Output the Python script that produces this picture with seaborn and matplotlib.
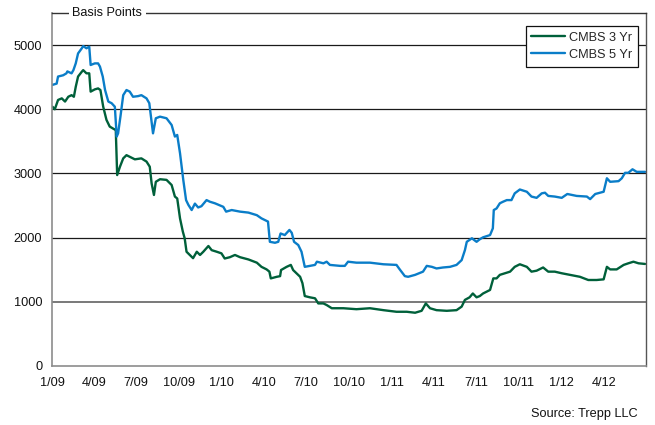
import numpy as np
import pandas as pd
import matplotlib
matplotlib.use('Agg')
import matplotlib.pyplot as plt
import seaborn as sns

# CMBS 3 Yr spread (basis points)
dates_3yr = ['2009-01-02', '2009-01-07', '2009-01-14', '2009-01-22', '2009-01-29', '2009-02-05',
             '2009-02-12', '2009-02-17', '2009-02-21', '2009-02-26', '2009-03-06', '2009-03-09',
             '2009-03-16', '2009-03-22', '2009-03-25', '2009-04-03', '2009-04-10', '2009-04-15',
             '2009-04-21', '2009-04-28', '2009-05-05', '2009-05-12', '2009-05-18', '2009-05-21',
             '2009-05-27', '2009-06-03', '2009-06-10', '2009-06-17', '2009-06-28', '2009-07-12',
             '2009-07-23', '2009-07-30', '2009-08-03', '2009-08-08', '2009-08-12', '2009-08-21',
             '2009-09-04', '2009-09-15', '2009-09-22', '2009-09-27', '2009-10-03', '2009-10-09',
             '2009-10-13', '2009-10-17', '2009-10-24', '2009-10-31', '2009-11-08', '2009-11-15',
             '2009-11-22', '2009-12-03', '2009-12-10', '2009-12-21', '2009-12-31', '2010-01-07',
             '2010-01-18', '2010-01-29', '2010-02-09', '2010-02-27', '2010-03-17', '2010-03-27',
             '2010-04-07', '2010-04-13', '2010-04-16', '2010-04-29', '2010-05-06', '2010-05-08',
             '2010-05-20', '2010-05-29', '2010-06-03', '2010-06-10', '2010-06-18', '2010-06-23',
             '2010-06-28', '2010-07-09', '2010-07-20', '2010-07-27', '2010-08-07', '2010-08-14',
             '2010-08-25', '2010-09-12', '2010-09-19', '2010-10-17', '2010-11-15', '2010-12-14',
             '2011-01-11', '2011-02-02', '2011-02-20', '2011-03-06', '2011-03-15', '2011-03-24',
             '2011-04-07', '2011-04-29', '2011-05-20', '2011-05-31', '2011-06-07', '2011-06-17',
             '2011-06-24', '2011-07-02', '2011-07-09', '2011-07-16', '2011-07-31', '2011-08-07',
             '2011-08-14', '2011-08-21', '2011-09-01', '2011-09-12', '2011-09-22', '2011-10-03',
             '2011-10-18', '2011-10-28', '2011-11-08', '2011-11-22', '2011-12-03', '2011-12-17',
             '2012-01-01', '2012-01-19', '2012-02-09', '2012-02-27', '2012-03-16', '2012-03-31',
             '2012-04-07', '2012-04-14', '2012-04-28', '2012-05-13', '2012-05-23', '2012-06-03',
             '2012-06-14', '2012-06-28']
cmbs_3yr = [4040, 4000, 4145, 4170, 4120, 4195,
            4220, 4195, 4350, 4510, 4585, 4610,
            4560, 4560, 4275, 4310, 4325, 4300,
            4040, 3835, 3730, 3700, 3675, 2975,
            3105, 3235, 3285, 3260, 3220, 3235,
            3185, 3105, 2845, 2665, 2870, 2910,
            2900, 2820, 2640, 2610, 2300, 2095,
            1990, 1780, 1730, 1680, 1780, 1730,
            1780, 1870, 1805, 1780, 1755, 1675,
            1695, 1730, 1695, 1660, 1610, 1545,
            1505, 1470, 1365, 1390, 1400, 1495,
            1545, 1575, 1495, 1445, 1390, 1290,
            1090, 1070, 1055, 975, 975, 950,
            900, 900, 900, 885, 900, 870,
            845, 845, 830, 860, 975, 900,
            870, 860, 870, 925, 1030, 1070,
            1130, 1070, 1090, 1130, 1185, 1365,
            1365, 1420, 1445, 1470, 1545, 1585,
            1545, 1470, 1485, 1535, 1470, 1470,
            1445, 1420, 1390, 1340, 1340, 1350,
            1545, 1505, 1505, 1575, 1600, 1625,
            1600, 1590]

# CMBS 5 Yr spread (basis points)
dates_5yr = ['2009-01-02', '2009-01-11', '2009-01-14', '2009-01-25', '2009-02-01', '2009-02-03',
             '2009-02-12', '2009-02-16', '2009-02-21', '2009-02-26', '2009-03-06', '2009-03-09',
             '2009-03-16', '2009-03-22', '2009-03-25', '2009-04-03', '2009-04-10', '2009-04-14',
             '2009-04-20', '2009-04-25', '2009-05-02', '2009-05-09', '2009-05-16', '2009-05-20',
             '2009-05-23', '2009-05-28', '2009-06-03', '2009-06-10', '2009-06-17', '2009-06-24',
             '2009-07-05', '2009-07-12', '2009-07-23', '2009-07-29', '2009-08-03', '2009-08-06',
             '2009-08-12', '2009-08-21', '2009-09-04', '2009-09-15', '2009-09-22', '2009-09-27',
             '2009-10-03', '2009-10-10', '2009-10-16', '2009-10-21', '2009-10-28', '2009-11-04',
             '2009-11-11', '2009-11-18', '2009-11-29', '2009-12-06', '2009-12-17', '2010-01-04',
             '2010-01-10', '2010-01-22', '2010-02-09', '2010-02-27', '2010-03-17', '2010-03-27',
             '2010-04-10', '2010-04-14', '2010-04-25', '2010-05-02', '2010-05-07', '2010-05-16',
             '2010-05-26', '2010-05-31', '2010-06-05', '2010-06-14', '2010-06-21', '2010-06-28',
             '2010-07-09', '2010-07-20', '2010-07-24', '2010-08-07', '2010-08-14', '2010-08-21',
             '2010-09-12', '2010-09-22', '2010-09-29', '2010-10-17', '2010-11-15', '2010-12-14',
             '2011-01-11', '2011-01-18', '2011-01-29', '2011-02-05', '2011-02-20', '2011-03-09',
             '2011-03-17', '2011-03-28', '2011-04-07', '2011-04-21', '2011-05-06', '2011-05-20',
             '2011-05-31', '2011-06-07', '2011-06-11', '2011-06-22', '2011-07-02', '2011-07-09',
             '2011-07-16', '2011-07-31', '2011-08-06', '2011-08-08', '2011-08-14', '2011-08-21',
             '2011-08-28', '2011-09-05', '2011-09-15', '2011-09-22', '2011-10-03', '2011-10-18',
             '2011-10-28', '2011-11-08', '2011-11-19', '2011-11-26', '2011-12-03', '2011-12-17',
             '2012-01-01', '2012-01-13', '2012-02-02', '2012-02-24', '2012-03-02', '2012-03-13',
             '2012-03-31', '2012-04-03', '2012-04-07', '2012-04-14', '2012-05-02', '2012-05-09',
             '2012-05-16', '2012-05-23', '2012-06-01', '2012-06-10', '2012-06-17', '2012-06-28']
cmbs_5yr = [4380, 4400, 4510, 4530, 4560, 4590,
            4560, 4610, 4715, 4870, 4950, 4985,
            4950, 4975, 4690, 4715, 4715, 4665,
            4510, 4300, 4120, 4095, 4040, 3575,
            3625, 3885, 4220, 4300, 4275, 4195,
            4205, 4220, 4170, 4095, 3805, 3625,
            3860, 3885, 3860, 3755, 3575, 3600,
            3315, 2900, 2585, 2510, 2430, 2530,
            2470, 2490, 2585, 2560, 2535, 2480,
            2405, 2430, 2405, 2390, 2350, 2300,
            2250, 1935, 1920, 1935, 2065, 2040,
            2120, 2075, 1935, 1885, 1780, 1545,
            1560, 1575, 1625, 1600, 1625, 1575,
            1560, 1560, 1625, 1610, 1610, 1585,
            1575, 1505, 1400, 1390, 1420, 1470,
            1560, 1545, 1520, 1535, 1545, 1575,
            1650, 1805, 1935, 1990, 1935, 1975,
            2005, 2040, 2145, 2430, 2455, 2535,
            2560, 2585, 2585, 2690, 2750, 2715,
            2640, 2620, 2690, 2700, 2650, 2640,
            2620, 2680, 2650, 2640, 2600, 2680,
            2715, 2805, 2925, 2870, 2880, 2925,
            3010, 3010, 3065, 3025, 3025, 3025]

tick_dates = ['2009-01-01', '2009-04-01', '2009-07-01', '2009-10-01', '2010-01-01', '2010-04-01',
              '2010-07-01', '2010-10-01', '2011-01-01', '2011-04-01', '2011-07-01', '2011-10-01',
              '2012-01-01', '2012-04-01']
tick_labels = ['1/09', '4/09', '7/09', '10/09', '1/10', '4/10', '7/10', '10/10',
               '1/11', '4/11', '7/11', '10/11', '1/12', '4/12']

df = pd.concat([
    pd.DataFrame({'date': pd.to_datetime(dates_3yr), 'bp': cmbs_3yr, 'series': 'CMBS 3 Yr'}),
    pd.DataFrame({'date': pd.to_datetime(dates_5yr), 'bp': cmbs_5yr, 'series': 'CMBS 5 Yr'}),
], ignore_index=True)

sns.set_style('white')
plt.rcParams['font.family'] = ['Liberation Sans', 'DejaVu Sans']
fs = 9.2

fig = plt.figure(figsize=(6.55, 4.25), dpi=100)
ax = fig.add_axes([52 / 655, 1 - 366 / 425, 594 / 655, 353 / 425])

palette = {'CMBS 3 Yr': '#00603A', 'CMBS 5 Yr': '#0A7DC8'}
sns.lineplot(data=df, x='date', y='bp', hue='series', palette=palette,
             linewidth=1.7, ax=ax, estimator=None)

ax.set_xlim(pd.Timestamp('2009-01-01'), pd.Timestamp('2012-06-30'))
ax.set_ylim(0, 5500)
ax.set_xticks(pd.to_datetime(tick_dates))
ax.set_xticklabels(tick_labels)
ax.set_yticks([0, 1000, 2000, 3000, 4000, 5000])
ax.tick_params(axis='x', length=0, pad=8, labelsize=fs, colors='#111111')
ax.tick_params(axis='y', length=0, pad=7, labelsize=fs, colors='#111111')
ax.set_xlabel('')
ax.set_ylabel('')

# horizontal reference lines
for yv in [2000, 3000, 4000, 5000]:
    ax.axhline(yv, color='#1a1a1a', linewidth=0.9, zorder=1)
ax.axhline(1000, color='#6e6e6e', linewidth=1.3, zorder=1)

for side in ['left', 'bottom']:
    ax.spines[side].set_color('#8c8c8c')
    ax.spines[side].set_linewidth(1.2)
ax.spines['right'].set_color('#555555')
ax.spines['top'].set_color('#333333')
ax.spines['right'].set_linewidth(1.0)
ax.spines['top'].set_linewidth(1.0)

ax.text(0.034, 1.0, 'Basis Points', transform=ax.transAxes, ha='left', va='center',
        fontsize=fs, color='#111111',
        bbox=dict(facecolor='white', edgecolor='none', pad=2.5), zorder=5)

leg = ax.legend(loc='upper right', bbox_to_anchor=(0.9865, 0.963), fontsize=fs,
                frameon=True, fancybox=False, framealpha=1, edgecolor='#111111',
                handlelength=2.6, borderpad=0.45, labelspacing=0.4, handletextpad=0.35,
                borderaxespad=0)
leg.get_frame().set_linewidth(0.9)
for line in leg.get_lines():
    line.set_linewidth(1.7)

fig.text(638 / 655, 1 - 414 / 425, 'Source: Trepp LLC', ha='right', va='center',
         fontsize=fs, color='#111111')

fig.savefig('out.png', dpi=100)
